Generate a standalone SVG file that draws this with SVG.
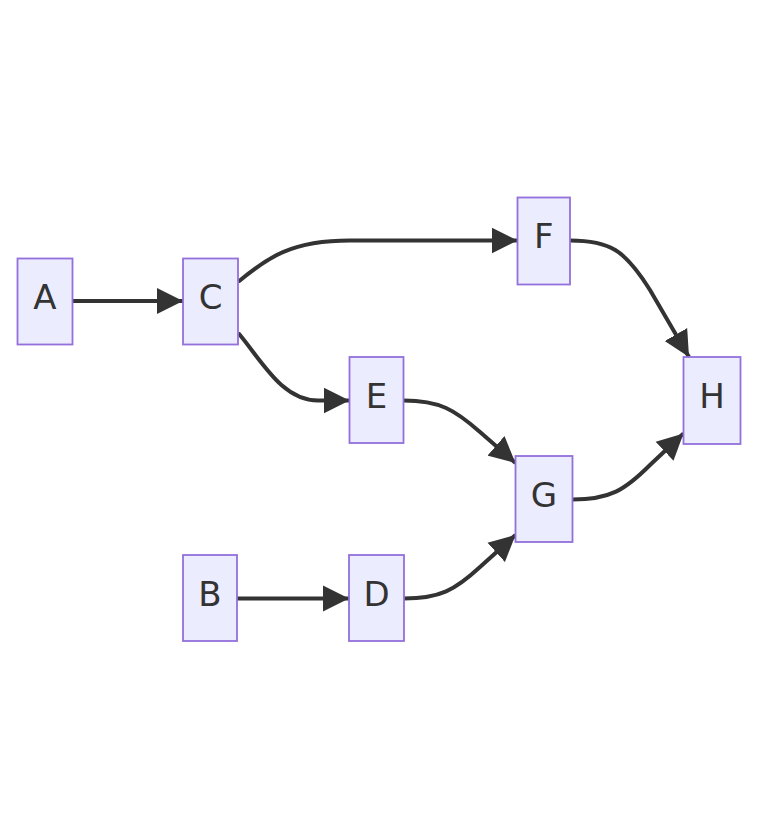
<svg xmlns="http://www.w3.org/2000/svg" width="758" height="839" viewBox="0 0 758 839">
<style>
.node rect{fill:#ECECFF;stroke:#9370DB;stroke-width:1.8}
.node text{font-family:"DejaVu Sans","Liberation Sans",sans-serif;font-size:34px;fill:#333333;text-anchor:middle}
.edge{fill:none;stroke:#333333;stroke-width:4;marker-end:url(#arrow)}
</style>
<defs>
<marker id="arrow" viewBox="0 0 10 10" refX="10" refY="5" markerUnits="userSpaceOnUse" markerWidth="26" markerHeight="27" orient="auto">
<path d="M0,0 L10,5 L0,10 z" fill="#333333"/>
</marker>
</defs>
<rect width="758" height="839" fill="#ffffff"/>
<g id="connectors">
<path class="edge" d="M72.5,301 L183,301"/>
<path class="edge" d="M238.3,281.7 C268,257 292,240.5 350,240.5 L517.5,240.5"/>
<path class="edge" d="M238.3,333 C262,361 282,400.5 318,400.5 L349.5,400.5"/>
<path class="edge" d="M237,598.5 L349,598.5"/>
<path class="edge" d="M403.5,400.5 C440,400.5 455,410 480,432 L515.5,463"/>
<path class="edge" d="M404,598.5 C440,598.5 455,590 480,567 L515.5,535"/>
<path class="edge" d="M570,240.5 C610,240.5 625,250 650,290 L689,357"/>
<path class="edge" d="M572.5,499.5 C610,499.5 625,490 650,465 L683.5,433.5"/>
</g>
<g id="A" class="node"><rect x="17.5" y="258.5" width="55" height="86"/><text x="45" y="308.5">A</text></g>
<g id="C" class="node"><rect x="183" y="258.5" width="55" height="86"/><text x="210.5" y="308.5">C</text></g>
<g id="F" class="node"><rect x="517.5" y="197.5" width="52.5" height="87"/><text x="543.7" y="248">F</text></g>
<g id="E" class="node"><rect x="349.5" y="357" width="54" height="86"/><text x="376.5" y="407.5">E</text></g>
<g id="H" class="node"><rect x="683.5" y="357" width="57" height="87"/><text x="712" y="407.5">H</text></g>
<g id="G" class="node"><rect x="515.5" y="456" width="57" height="86"/><text x="544" y="506.5">G</text></g>
<g id="B" class="node"><rect x="183" y="555" width="54" height="86"/><text x="210" y="605.5">B</text></g>
<g id="D" class="node"><rect x="349" y="555" width="55" height="86"/><text x="376.5" y="605.5">D</text></g>
</svg>
